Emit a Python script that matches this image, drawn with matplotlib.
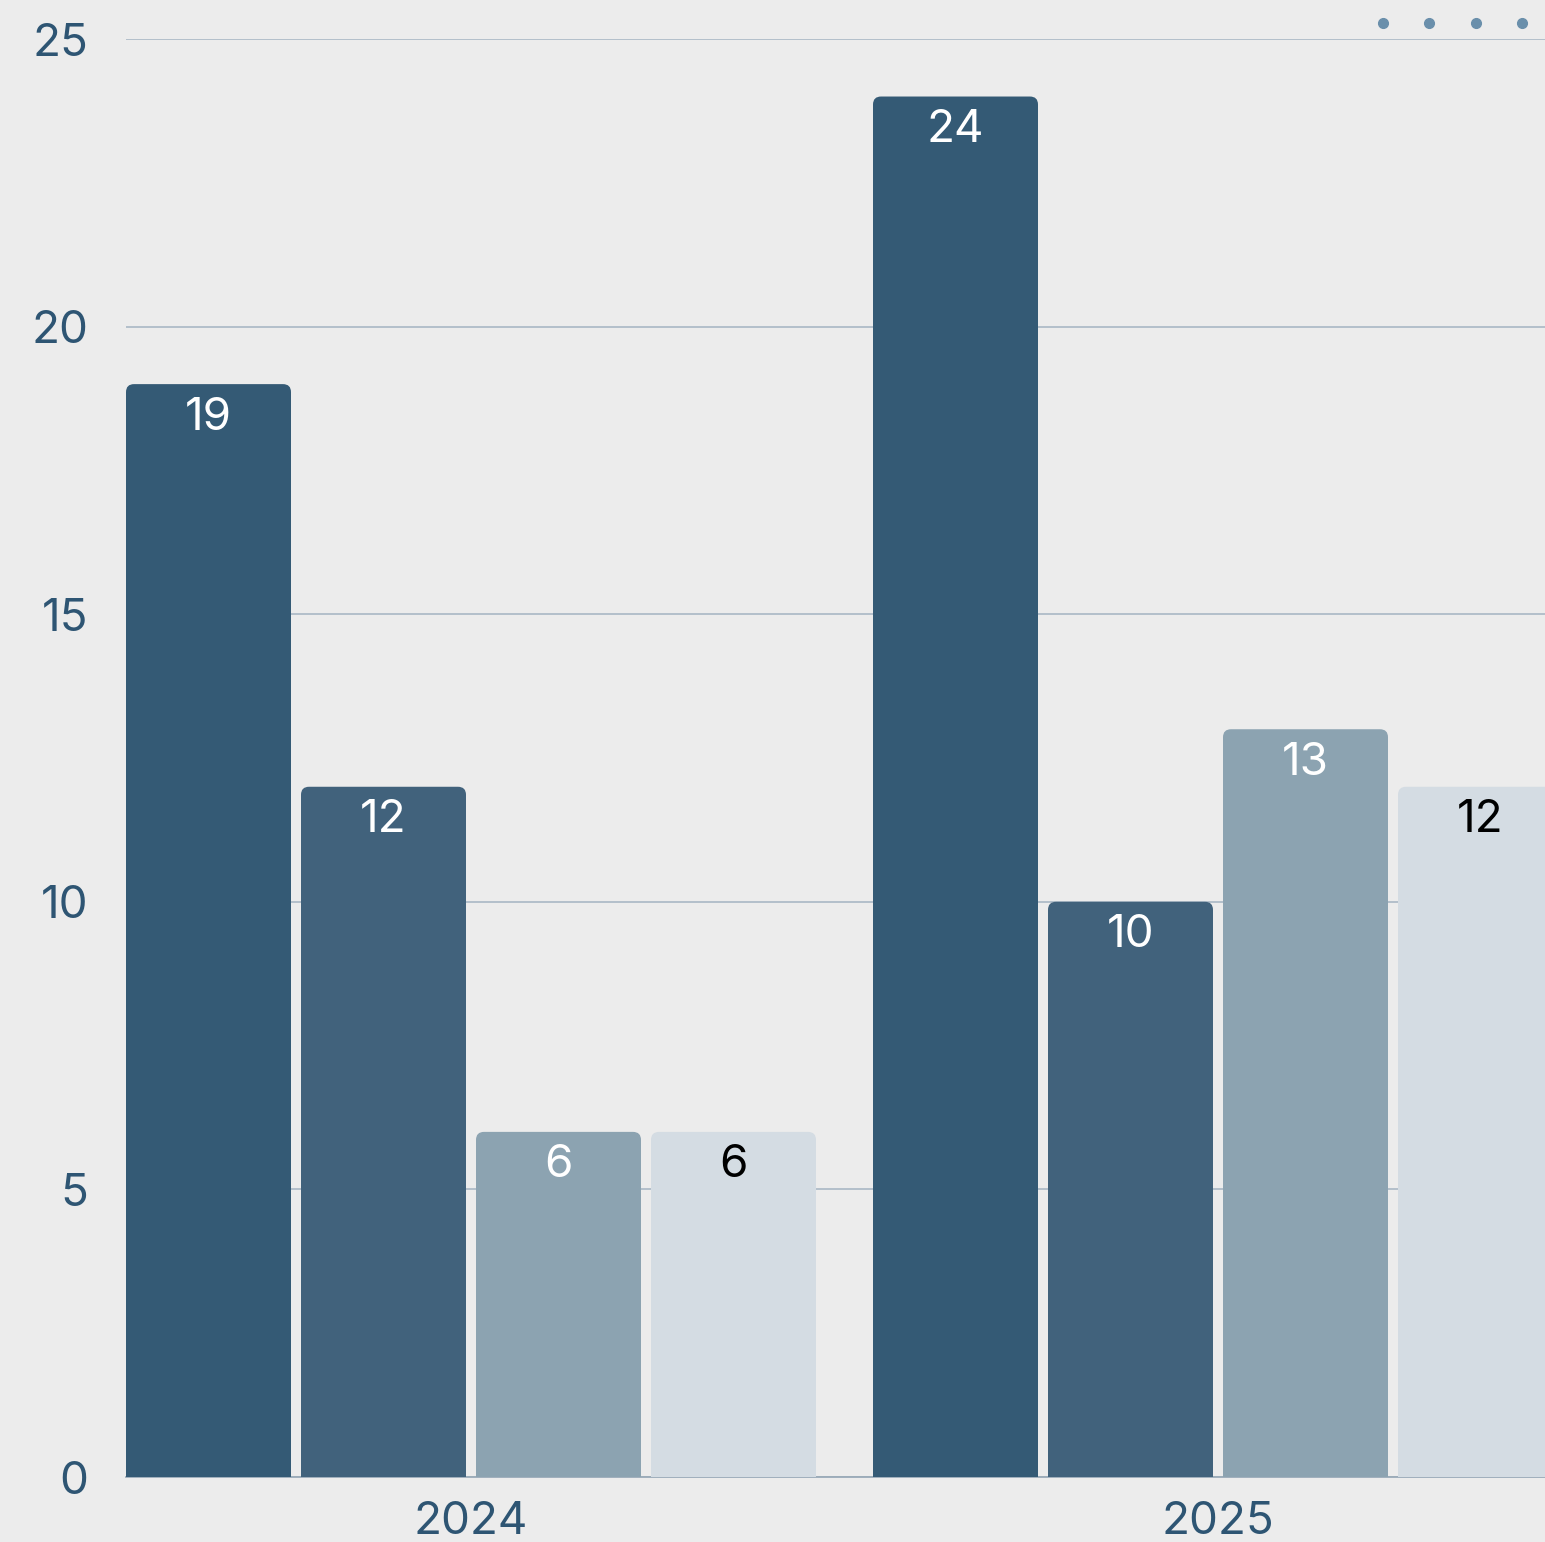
import matplotlib
matplotlib.use("Agg")
import matplotlib.pyplot as plt
import numpy as np
from matplotlib.patches import FancyBboxPatch
from matplotlib.lines import Line2D

# Data
years = ["2024", "2025"]
series_a = [19, 24]
series_b = [12, 10]
series_c = [6, 13]
series_d = [6, 12]

bar_colors = ["#345a75", "#41627c", "#8ca3b1", "#d4dce3"]
label_colors = ["white", "white", "white", "black"]
tick_color = "#2e5573"
grid_color = "#aebcc8"
bg_color = "#ececec"

plt.rcParams["font.family"] = ["Inter", "DejaVu Sans"]

fig = plt.figure(figsize=(15.45, 15.42), dpi=100)
fig.patch.set_facecolor(bg_color)

W, H = 1545, 1542
ax = fig.add_axes([126 / W, (H - 1477) / H, (1545 - 126) / W, (1477 - 39) / H])
ax.set_facecolor("none")

x = np.arange(len(years))
step = 175 / 747
width = 165 / 747
all_series = [series_a, series_b, series_c, series_d]

# Draw plain bars first, then swap them for bars with rounded tops
px_per_x = 747.0
px_per_y = (1477 - 39) / 25.0
radius_px = 8
for i, vals in enumerate(all_series):
    bars = ax.bar(x + (i - 1.5) * step, vals, width, color=bar_colors[i], zorder=3)
    for b, v in zip(bars, vals):
        b.set_visible(False)
        bx, bw, bh = b.get_x(), b.get_width(), b.get_height()
        extra = 2.0
        patch = FancyBboxPatch((bx, -extra), bw, bh + extra,
                               boxstyle="round,pad=0,rounding_size=%f" % (radius_px / px_per_x),
                               mutation_aspect=px_per_x / px_per_y,
                               facecolor=bar_colors[i], edgecolor="none", zorder=3)
        ax.add_patch(patch)
        ax.annotate(str(v), (bx + bw / 2, bh), xytext=(0, -9), textcoords="offset points",
                    ha="center", va="top", fontsize=33, color=label_colors[i], zorder=4)

ax.set_xlim((126 - 471) / 747, (1545 - 471) / 747)
ax.set_ylim(0, 25)
ax.set_yticks([0, 5, 10, 15, 20, 25])
ax.set_xticks(x)
ax.set_xticklabels(years)
ax.tick_params(axis="y", length=0, pad=27, labelsize=33, labelcolor=tick_color)
ax.tick_params(axis="x", length=0, pad=17, labelsize=33, labelcolor=tick_color)

ax.grid(axis="y", color=grid_color, linewidth=1.3, zorder=1)
ax.grid(axis="x", visible=False)
for s in ["top", "right", "left"]:
    ax.spines[s].set_visible(False)
ax.spines["bottom"].set_color("#9aaab8")
ax.spines["bottom"].set_linewidth(1.3)
ax.spines["bottom"].set_zorder(2)

# menu dots in the top right corner
for dx in [1383, 1429, 1476, 1522]:
    fig.add_artist(Line2D([dx / W], [1 - 23 / H], marker="o", markersize=7,
                          color="#6a8fab", linestyle="None", transform=fig.transFigure))

fig.savefig("out.png", dpi=100, facecolor=bg_color)
